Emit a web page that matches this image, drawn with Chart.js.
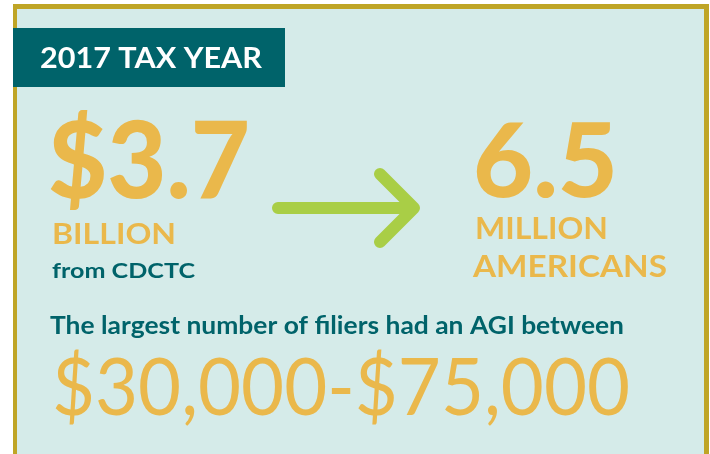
<!DOCTYPE html>
<html>
<head>
<meta charset="utf-8">
<script src="https://cdn.jsdelivr.net/npm/chart.js@4"></script>
<style>
  html, body { margin: 0; padding: 0; background: #ffffff; }
  #wrap { width: 710px; height: 454px; }
</style>
</head>
<body>
<div id="wrap"><canvas id="infographic" width="710" height="454"></canvas></div>
<script>
// Texts / values of the infographic
const headerLabel = ["2017 TAX YEAR"];
const leftValue = ["$3.7"];
const leftUnit = ["BILLION"];
const leftNote = ["from CDCTC"];
const rightValue = ["6.5"];
const rightUnit = ["MILLION", "AMERICANS"];
const agiNote = ["The largest number of filiers had an AGI between"];
const agiRange = ["$30,000-$75,000"];

// Colours
const gold = "#EAB84B";
const teal = "#00636A";
const green = "#A9CE46";
const frame = "#BFA526";
const panel = "#D5EBE9";

// draw text stretched/squeezed to a given width
function fitText(ctx, text, x, y, w, font, color) {
  ctx.font = font;
  const m = ctx.measureText(text).width;
  ctx.save();
  ctx.translate(x, y);
  ctx.scale(w / m, 1);
  ctx.fillStyle = color;
  ctx.textBaseline = "alphabetic";
  ctx.textAlign = "left";
  ctx.fillText(text, 0, 0);
  ctx.restore();
}

const infoPlugin = {
  id: "infoPlugin",
  beforeDraw(chart) {
    const ctx = chart.ctx;
    ctx.save();
    ctx.fillStyle = "#ffffff";
    ctx.fillRect(0, 0, 710, 454);
    // frame
    ctx.fillStyle = frame;
    ctx.fillRect(13, 4, 696, 460);
    ctx.fillStyle = panel;
    ctx.fillRect(17, 9, 687, 460);
    ctx.restore();
  },
  afterDraw(chart) {
    const ctx = chart.ctx;
    ctx.save();
    // header
    ctx.fillStyle = teal;
    ctx.fillRect(13, 28, 272, 59);
    fitText(ctx, headerLabel[0], 40, 68, 222, "bold 29px Lato, 'DejaVu Sans'", "#ffffff");

    // left figure
    fitText(ctx, leftValue[0], 48, 198, 202, "900 106px Lato, 'DejaVu Sans'", gold);
    fitText(ctx, leftUnit[0], 52, 244, 124, "bold 29px Lato, 'DejaVu Sans'", gold);
    fitText(ctx, leftNote[0], 52, 278, 143, "bold 21px Lato, 'DejaVu Sans'", teal);

    // arrow
    ctx.strokeStyle = green;
    ctx.lineWidth = 12;
    ctx.lineCap = "round";
    ctx.lineJoin = "round";
    ctx.beginPath();
    ctx.moveTo(278, 208);
    ctx.lineTo(413, 208);
    ctx.moveTo(380, 174);
    ctx.lineTo(414, 208);
    ctx.lineTo(380, 242);
    ctx.stroke();

    // right figure
    fitText(ctx, rightValue[0], 473, 197, 145, "900 103px Lato, 'DejaVu Sans'", gold);
    fitText(ctx, rightUnit[0], 475, 239, 133, "bold 31px Lato, 'DejaVu Sans'", gold);
    fitText(ctx, rightUnit[1], 473, 277, 194, "bold 31px Lato, 'DejaVu Sans'", gold);

    // AGI
    fitText(ctx, agiNote[0], 50, 334, 574, "bold 24px Lato, 'DejaVu Sans'", teal);
    fitText(ctx, agiRange[0], 52, 415, 578, "400 80px Lato, 'DejaVu Sans'", gold);
    ctx.restore();
  }
};

new Chart(document.getElementById("infographic"), {
  type: "scatter",
  data: { datasets: [] },
  options: {
    responsive: false,
    animation: false,
    events: [],
    layout: { padding: 0 },
    plugins: { legend: { display: false }, tooltip: { enabled: false } },
    scales: {
      x: { display: false, min: 0, max: 710 },
      y: { display: false, min: 0, max: 454 }
    }
  },
  plugins: [infoPlugin]
});
</script>
</body>
</html>
